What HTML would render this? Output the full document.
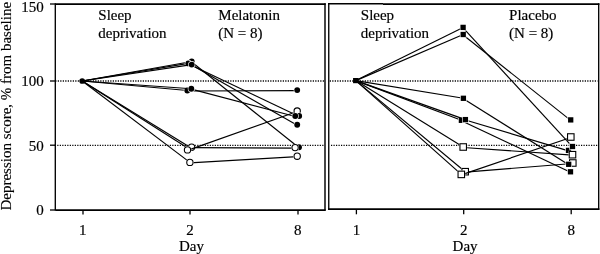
<!DOCTYPE html>
<html><head><meta charset="utf-8"><title>Depression score chart</title>
<style>
html,body{margin:0;padding:0;background:#fff;}
body{width:600px;height:254px;overflow:hidden;font-family:"Liberation Serif",serif;}
svg{display:block;filter:grayscale(1);}
</style></head><body>
<svg width="600" height="254" viewBox="0 0 600 254">
<rect width="600" height="254" fill="#fff"/>
<line x1="55.25" y1="80.95" x2="324.3" y2="80.95" stroke="#000" stroke-width="1.5" stroke-dasharray="1.2 1.3"/>
<line x1="54.75" y1="145.3" x2="324.3" y2="145.3" stroke="#000" stroke-width="1.25" stroke-dasharray="1.2 1.3"/>
<line x1="329.75" y1="80.95" x2="597.6" y2="80.95" stroke="#000" stroke-width="1.5" stroke-dasharray="1.2 1.3"/>
<line x1="331.0" y1="145.3" x2="597.6" y2="145.3" stroke="#000" stroke-width="1.25" stroke-dasharray="1.2 1.3"/>
<line x1="55.3" y1="3.2" x2="55.3" y2="210.6" stroke="#000" stroke-width="1.35" />
<line x1="55.3" y1="4.0" x2="325.7" y2="4.0" stroke="#000" stroke-width="1.75" />
<line x1="55.3" y1="210.0" x2="325.7" y2="210.0" stroke="#000" stroke-width="1.75" />
<line x1="325.0" y1="3.2" x2="325.0" y2="210.6" stroke="#000" stroke-width="1.45" />
<line x1="50.0" y1="4.0" x2="55.3" y2="4.0" stroke="#000" stroke-width="1.3" />
<line x1="50.0" y1="81.0" x2="55.3" y2="81.0" stroke="#000" stroke-width="1.3" />
<line x1="50.0" y1="145.2" x2="55.3" y2="145.2" stroke="#000" stroke-width="1.3" />
<line x1="50.0" y1="210.0" x2="55.3" y2="210.0" stroke="#000" stroke-width="1.3" />
<line x1="83.0" y1="210.0" x2="83.0" y2="214.6" stroke="#000" stroke-width="1.3" />
<line x1="190.0" y1="210.0" x2="190.0" y2="214.6" stroke="#000" stroke-width="1.3" />
<line x1="298.0" y1="210.0" x2="298.0" y2="214.6" stroke="#000" stroke-width="1.3" />
<line x1="328.75" y1="3.2" x2="328.75" y2="209.7" stroke="#000" stroke-width="1.35" />
<line x1="328.0" y1="3.75" x2="383.0" y2="3.75" stroke="#000" stroke-width="1.5" />
<line x1="383.0" y1="4.0" x2="599.4" y2="4.0" stroke="#000" stroke-width="1.75" />
<line x1="328.0" y1="209.0" x2="599.4" y2="209.0" stroke="#000" stroke-width="1.75" />
<line x1="598.7" y1="3.2" x2="598.7" y2="209.7" stroke="#000" stroke-width="1.35" />
<line x1="356.4" y1="209.0" x2="356.4" y2="214.3" stroke="#000" stroke-width="1.3" />
<line x1="463.7" y1="209.0" x2="463.7" y2="214.3" stroke="#000" stroke-width="1.3" />
<line x1="571.2" y1="209.0" x2="571.2" y2="214.3" stroke="#000" stroke-width="1.3" />
<circle cx="82.2" cy="81.0" r="2.85" fill="#000"/>
<rect x="353.05" y="78.00" width="5.5" height="5.2" fill="#000"/>
<line x1="82.2" y1="81.0" x2="191.7" y2="61.5" stroke="#000" stroke-width="1.15" />
<line x1="191.7" y1="61.95" x2="299.0" y2="147.75" stroke="#000" stroke-width="1.15" />
<circle cx="191.7" cy="61.5" r="3.55" fill="#fff"/>
<circle cx="191.7" cy="61.5" r="2.95" fill="#000"/>
<circle cx="299.0" cy="147.3" r="3.55" fill="#fff"/>
<circle cx="299.0" cy="147.3" r="2.95" fill="#000"/>
<line x1="82.2" y1="81.0" x2="187.3" y2="90.5" stroke="#000" stroke-width="1.15" />
<line x1="187.3" y1="90.95" x2="297.2" y2="90.55" stroke="#000" stroke-width="1.15" />
<circle cx="187.3" cy="90.5" r="3.55" fill="#fff"/>
<circle cx="187.3" cy="90.5" r="2.95" fill="#000"/>
<circle cx="297.2" cy="90.1" r="3.55" fill="#fff"/>
<circle cx="297.2" cy="90.1" r="2.95" fill="#000"/>
<line x1="82.2" y1="81.0" x2="190.0" y2="147.2" stroke="#000" stroke-width="1.15" />
<line x1="191.6" y1="147.64999999999998" x2="295.1" y2="148.04999999999998" stroke="#000" stroke-width="1.15" />
<circle cx="191.6" cy="147.2" r="3.9" fill="#fff"/>
<circle cx="191.6" cy="147.2" r="3.15" fill="#fff" stroke="#000" stroke-width="1.1"/>
<circle cx="295.1" cy="147.6" r="3.9" fill="#fff"/>
<circle cx="295.1" cy="147.6" r="3.15" fill="#fff" stroke="#000" stroke-width="1.1"/>
<line x1="82.2" y1="81.0" x2="190.0" y2="149.6" stroke="#000" stroke-width="1.15" />
<line x1="187.5" y1="150.35" x2="297.2" y2="111.45" stroke="#000" stroke-width="1.15" />
<circle cx="187.5" cy="149.9" r="3.9" fill="#fff"/>
<circle cx="187.5" cy="149.9" r="3.15" fill="#fff" stroke="#000" stroke-width="1.1"/>
<circle cx="297.2" cy="111.0" r="3.9" fill="#fff"/>
<circle cx="297.2" cy="111.0" r="3.15" fill="#fff" stroke="#000" stroke-width="1.1"/>
<line x1="82.2" y1="81.0" x2="188.3" y2="63.4" stroke="#000" stroke-width="1.15" />
<line x1="188.3" y1="63.85" x2="299.15" y2="116.45" stroke="#000" stroke-width="1.15" />
<circle cx="188.3" cy="63.4" r="3.55" fill="#fff"/>
<circle cx="188.3" cy="63.4" r="2.95" fill="#000"/>
<circle cx="299.15" cy="116.0" r="3.55" fill="#fff"/>
<circle cx="299.15" cy="116.0" r="2.95" fill="#000"/>
<line x1="82.2" y1="81.0" x2="191.3" y2="88.7" stroke="#000" stroke-width="1.15" />
<line x1="191.3" y1="89.15" x2="295.25" y2="116.45" stroke="#000" stroke-width="1.15" />
<circle cx="191.3" cy="88.7" r="3.55" fill="#fff"/>
<circle cx="191.3" cy="88.7" r="2.95" fill="#000"/>
<circle cx="295.25" cy="116.0" r="3.55" fill="#fff"/>
<circle cx="295.25" cy="116.0" r="2.95" fill="#000"/>
<line x1="82.2" y1="81.0" x2="191.7" y2="64.6" stroke="#000" stroke-width="1.15" />
<line x1="191.7" y1="65.05" x2="297.2" y2="125.25" stroke="#000" stroke-width="1.15" />
<circle cx="191.7" cy="64.6" r="3.55" fill="#fff"/>
<circle cx="191.7" cy="64.6" r="2.95" fill="#000"/>
<circle cx="297.2" cy="124.8" r="3.55" fill="#fff"/>
<circle cx="297.2" cy="124.8" r="2.95" fill="#000"/>
<line x1="82.2" y1="81.0" x2="189.9" y2="162.4" stroke="#000" stroke-width="1.15" />
<line x1="189.9" y1="162.85" x2="297.2" y2="156.64999999999998" stroke="#000" stroke-width="1.15" />
<circle cx="189.9" cy="162.4" r="3.9" fill="#fff"/>
<circle cx="189.9" cy="162.4" r="3.15" fill="#fff" stroke="#000" stroke-width="1.1"/>
<circle cx="297.2" cy="156.2" r="3.9" fill="#fff"/>
<circle cx="297.2" cy="156.2" r="3.15" fill="#fff" stroke="#000" stroke-width="1.1"/>
<line x1="355.8" y1="80.6" x2="463.2" y2="34.5" stroke="#000" stroke-width="1.15" />
<line x1="463.2" y1="34.95" x2="570.7" y2="120.35000000000001" stroke="#000" stroke-width="1.15" />
<rect x="459.95" y="31.25" width="6.50" height="6.50" fill="#fff"/>
<rect x="460.55" y="31.85" width="5.30" height="5.30" fill="#000"/>
<rect x="567.45" y="116.65" width="6.50" height="6.50" fill="#fff"/>
<rect x="568.05" y="117.25" width="5.30" height="5.30" fill="#000"/>
<line x1="355.8" y1="80.6" x2="461.4" y2="120.3" stroke="#000" stroke-width="1.15" />
<line x1="461.4" y1="120.75" x2="570.5" y2="172.25" stroke="#000" stroke-width="1.15" />
<rect x="458.15" y="117.05" width="6.50" height="6.50" fill="#fff"/>
<rect x="458.75" y="117.65" width="5.30" height="5.30" fill="#000"/>
<rect x="567.25" y="168.55" width="6.50" height="6.50" fill="#fff"/>
<rect x="567.85" y="169.15" width="5.30" height="5.30" fill="#000"/>
<line x1="355.8" y1="80.6" x2="465.4" y2="119.6" stroke="#000" stroke-width="1.15" />
<line x1="465.4" y1="120.05" x2="568.5" y2="150.85" stroke="#000" stroke-width="1.15" />
<rect x="462.15" y="116.35" width="6.50" height="6.50" fill="#fff"/>
<rect x="462.75" y="116.95" width="5.30" height="5.30" fill="#000"/>
<rect x="565.25" y="147.15" width="6.50" height="6.50" fill="#fff"/>
<rect x="565.85" y="147.75" width="5.30" height="5.30" fill="#000"/>
<line x1="355.8" y1="80.6" x2="463.1" y2="27.4" stroke="#000" stroke-width="1.15" />
<line x1="463.1" y1="27.849999999999998" x2="572.5" y2="146.95" stroke="#000" stroke-width="1.15" />
<rect x="459.85" y="24.15" width="6.50" height="6.50" fill="#fff"/>
<rect x="460.45" y="24.75" width="5.30" height="5.30" fill="#000"/>
<rect x="569.25" y="143.25" width="6.50" height="6.50" fill="#fff"/>
<rect x="569.85" y="143.85" width="5.30" height="5.30" fill="#000"/>
<line x1="355.8" y1="80.6" x2="463.2" y2="147.0" stroke="#000" stroke-width="1.15" />
<line x1="463.2" y1="147.45" x2="572.5" y2="155.14999999999998" stroke="#000" stroke-width="1.15" />
<rect x="459.25" y="143.05" width="7.90" height="7.90" fill="#fff"/>
<rect x="459.95" y="143.75" width="6.50" height="6.50" fill="#fff" stroke="#000" stroke-width="1.1"/>
<rect x="568.55" y="150.75" width="7.90" height="7.90" fill="#fff"/>
<rect x="569.25" y="151.45" width="6.50" height="6.50" fill="#fff" stroke="#000" stroke-width="1.1"/>
<line x1="355.8" y1="80.6" x2="465.2" y2="171.7" stroke="#000" stroke-width="1.15" />
<line x1="465.2" y1="172.14999999999998" x2="572.8" y2="163.45" stroke="#000" stroke-width="1.15" />
<rect x="461.25" y="167.75" width="7.90" height="7.90" fill="#fff"/>
<rect x="461.95" y="168.45" width="6.50" height="6.50" fill="#fff" stroke="#000" stroke-width="1.1"/>
<rect x="568.85" y="159.05" width="7.90" height="7.90" fill="#fff"/>
<rect x="569.55" y="159.75" width="6.50" height="6.50" fill="#fff" stroke="#000" stroke-width="1.1"/>
<line x1="355.8" y1="80.6" x2="463.4" y2="98.3" stroke="#000" stroke-width="1.15" />
<line x1="463.4" y1="98.75" x2="568.7" y2="164.75" stroke="#000" stroke-width="1.15" />
<rect x="460.15" y="95.05" width="6.50" height="6.50" fill="#fff"/>
<rect x="460.75" y="95.65" width="5.30" height="5.30" fill="#000"/>
<rect x="565.45" y="161.05" width="6.50" height="6.50" fill="#fff"/>
<rect x="566.05" y="161.65" width="5.30" height="5.30" fill="#000"/>
<line x1="355.8" y1="80.6" x2="461.3" y2="174.4" stroke="#000" stroke-width="1.15" />
<line x1="461.3" y1="174.85" x2="570.8" y2="137.45" stroke="#000" stroke-width="1.15" />
<rect x="457.35" y="170.45" width="7.90" height="7.90" fill="#fff"/>
<rect x="458.05" y="171.15" width="6.50" height="6.50" fill="#fff" stroke="#000" stroke-width="1.1"/>
<rect x="566.85" y="133.05" width="7.90" height="7.90" fill="#fff"/>
<rect x="567.55" y="133.75" width="6.50" height="6.50" fill="#fff" stroke="#000" stroke-width="1.1"/>
<g font-family="Liberation Serif" font-size="15" fill="#000" stroke="#000" stroke-width="0.18">
<text transform="translate(43.8,11.7) scale(1,1.02)" text-anchor="end" >150</text>
<text transform="translate(43.8,86.2) scale(1,1.02)" text-anchor="end" >100</text>
<text transform="translate(43.8,151.2) scale(1,1.02)" text-anchor="end" >50</text>
<text transform="translate(43.8,214.8) scale(1,1.02)" text-anchor="end" >0</text>
<text transform="translate(82.8,234.6) scale(1,1.02)" text-anchor="middle" >1</text>
<text transform="translate(190.0,234.6) scale(1,1.02)" text-anchor="middle" >2</text>
<text transform="translate(297.8,234.6) scale(1,1.02)" text-anchor="middle" >8</text>
<text transform="translate(356.4,234.6) scale(1,1.02)" text-anchor="middle" >1</text>
<text transform="translate(463.8,234.6) scale(1,1.02)" text-anchor="middle" >2</text>
<text transform="translate(571.3,234.6) scale(1,1.02)" text-anchor="middle" >8</text>
<text transform="translate(191.5,251.0) scale(1,1.02)" text-anchor="middle" >Day</text>
<text transform="translate(465.1,250.6) scale(1,1.02)" text-anchor="middle" >Day</text>
<text transform="translate(98.3,19.8) scale(1,1.02)" text-anchor="start" >Sleep</text>
<text transform="translate(98.3,38.0) scale(1,1.02)" text-anchor="start" >deprivation</text>
<text transform="translate(218.3,19.6) scale(1,1.02)" text-anchor="start" >Melatonin</text>
<text transform="translate(218.3,37.8) scale(1,1.02)" text-anchor="start" >(N = 8)</text>
<text transform="translate(360.8,19.6) scale(1,1.02)" text-anchor="start" >Sleep</text>
<text transform="translate(360.8,37.8) scale(1,1.02)" text-anchor="start" >deprivation</text>
<text transform="translate(509.1,19.8) scale(1,1.02)" text-anchor="start" >Placebo</text>
<text transform="translate(509.1,38.0) scale(1,1.02)" text-anchor="start" >(N = 8)</text>
<text transform="translate(11,210.6) rotate(-90)" x="0" y="0" stroke-width="0.1">Depression score, % from baseline</text>
</g>
</svg>
</body></html>
